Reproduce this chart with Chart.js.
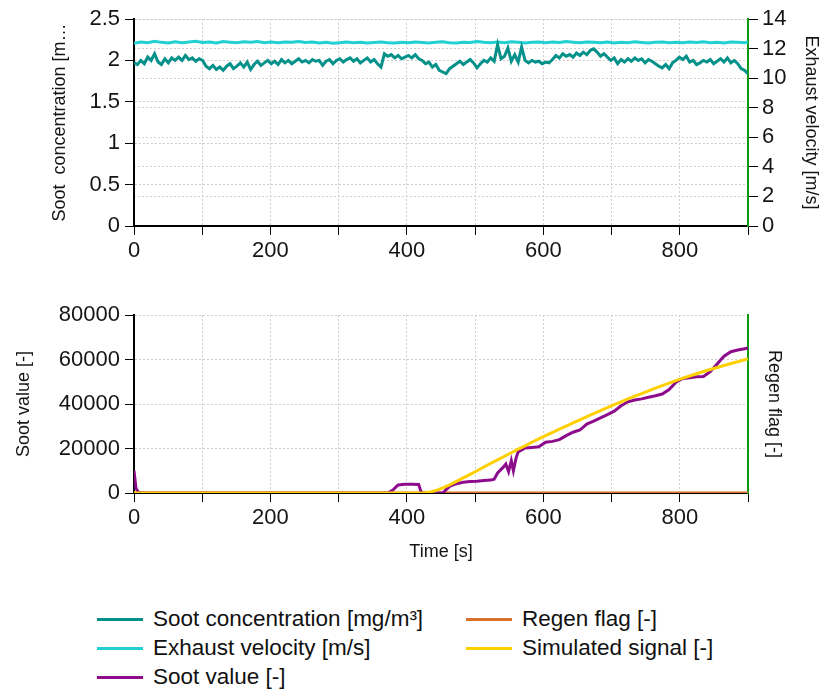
<!DOCTYPE html>
<html>
<head>
<meta charset="utf-8">
<script src="https://cdn.jsdelivr.net/npm/chart.js@4.4.1/dist/chart.umd.min.js"></script>
<style>
  body { margin: 0; background: #fff; font-family: "Liberation Sans", Arial, sans-serif; }
  #wrap { position: relative; width: 824px; height: 690px; }
  #wrap canvas { position: absolute; left: 0; }
  #top { top: 0; }
  #bottom { top: 270px; }
  .item { position: absolute; font-size: 22.5px; line-height: 26px; color: #111; white-space: nowrap; }
  .item .swatch { position: absolute; left: -56px; top: 12px; width: 46px; height: 3px; }
</style>
</head>
<body>
<div id="wrap">
  <canvas id="top" width="824" height="270"></canvas>
  <canvas id="bottom" width="824" height="310"></canvas>
  <div id="legend"></div>
</div>
<script>
// time stamps (s)
const time5 = Array.from({ length: 180 }, (_, i) => i * 5);
const time10 = Array.from({ length: 90 }, (_, i) => i * 10).concat([895]);

// x tick labels (every other 100 s tick)
const xTickLabels = ['0', '', '200', '', '400', '', '600', '', '800'];

// soot concentration [mg/m³], every 5 s
const sootConc = [
  1.97, 1.95, 2.0, 1.96, 2.04, 2.0, 2.08,
  1.98, 1.95, 2.02, 1.97, 2.03, 2.0,
  2.04, 2.0, 2.06, 2.01, 2.03, 1.99, 2.02, 2.0,
  1.93, 1.90, 1.94, 1.89, 1.92, 1.88, 1.93, 1.96, 1.90, 1.93,
  1.97, 1.92, 1.98, 1.89, 1.95, 1.99, 1.94, 1.97, 2.0, 1.96,
  1.99, 1.95, 2.01, 1.97, 2.0, 1.96, 1.99, 2.02, 1.98, 2.0,
  1.97, 2.01, 1.99, 2.0, 1.94, 1.99, 2.01, 1.96, 2.0, 2.02,
  1.98, 2.01, 2.03, 1.99, 2.02, 1.97, 2.0, 2.03, 1.98, 2.01,
  1.96, 1.92, 2.08, 2.05, 2.07, 2.03, 2.06, 2.02, 2.04, 2.06,
  2.03, 2.07, 2.02, 2.0, 1.96, 1.98, 1.92, 1.95, 1.88, 1.86,
  1.84, 1.9, 1.93, 1.96, 1.99, 1.95, 1.98, 2.01, 1.97, 1.91,
  1.96, 2.0, 1.98, 2.03, 1.99, 2.19, 2.02, 2.05, 2.15, 1.99,
  2.07, 1.98, 2.16, 2.0, 1.97, 2.0, 1.98, 1.99, 1.96, 1.98,
  1.97, 2.01, 2.06, 2.03, 2.08, 2.05, 2.07, 2.04, 2.09, 2.06,
  2.1, 2.07, 2.12, 2.14, 2.1, 2.05, 2.08, 2.04, 2.0, 2.03,
  1.96, 2.01, 1.98, 2.02, 1.99, 2.03, 2.0, 2.02, 1.97, 2.01,
  1.99, 1.96, 1.93, 1.91, 1.95, 1.9, 1.97, 2.0, 2.04, 2.01,
  2.05, 1.98, 2.0, 1.95, 1.97, 2.0, 1.98, 2.01, 1.96, 1.99,
  2.02, 1.98, 2.03, 1.97, 2.0, 1.96, 1.9, 1.88, 1.84
];

// exhaust velocity [m/s], every 10 s
const exhaustVel = [
  12.35, 12.45, 12.4, 12.5, 12.42, 12.38, 12.46, 12.4, 12.44, 12.5,
  12.41, 12.45, 12.38, 12.47, 12.43, 12.4, 12.46, 12.42, 12.48, 12.4,
  12.44, 12.39, 12.45, 12.42, 12.47, 12.41, 12.44, 12.38, 12.42, 12.36,
  12.4, 12.44, 12.39, 12.42, 12.37, 12.41, 12.45, 12.4, 12.38, 12.43,
  12.39, 12.44, 12.41, 12.37, 12.42, 12.46, 12.4, 12.38, 12.43, 12.41,
  12.47, 12.42, 12.39, 12.44, 12.4, 12.46, 12.43, 12.38, 12.42, 12.45,
  12.4, 12.44, 12.41, 12.47, 12.43, 12.39, 12.45, 12.42, 12.4, 12.44,
  12.38, 12.43, 12.4, 12.46, 12.41, 12.37, 12.42, 12.45, 12.4, 12.43,
  12.39, 12.44, 12.41, 12.46, 12.4, 12.43, 12.38, 12.45, 12.42, 12.4, 12.44
];

// soot value [-]
const sootValueTime = [0, 3, 6, 10, 370, 378, 385, 395, 405, 415, 418, 421,
  450, 455, 460, 470, 480, 490, 500, 510, 520, 525,
  530, 538, 542, 546, 550, 553, 557, 560,
  570, 580, 590, 600, 610, 620, 630, 640, 650, 660,
  670, 680, 690, 700, 710, 720, 730, 740, 750, 760,
  770, 780, 790, 800, 810, 820, 830, 840, 850, 860,
  870, 880, 890, 895];
const sootValue = [10000, 2000, 500, 0, 0, 1500, 3600, 3900, 3900, 3800, 800, 0,
  0, 1500, 3000, 4200, 4800, 5200, 5300, 5600, 5800, 6200,
  9000, 11500, 13000, 9600, 14500, 10000, 15800, 18500,
  20200, 20500, 20800, 22800, 23200, 24000, 25800, 27300, 28300, 31000,
  32300, 33800, 35200, 36800, 39200, 41000, 41800, 42300, 43000, 43700,
  44500, 46500, 49800, 51500, 51800, 52200, 52400, 54500, 58000, 61500,
  63500, 64300, 64800, 65200];

// regen flag [-]
const regenTime = [0, 895];
const regenFlag = [0, 0];

// simulated signal [-]
const simTime = [0, 420, 430, 440, 450, 460, 470, 480, 490, 500,
  510, 520, 530, 540, 550, 560, 570, 580, 590, 600,
  610, 620, 630, 640, 650, 660, 670, 680, 690, 700,
  710, 720, 730, 740, 750, 760, 770, 780, 790, 800,
  810, 820, 830, 840, 850, 860, 870, 880, 890, 895];
const simSignal = [0, 0, 300, 1100, 2300, 3700, 5200, 6800, 8400, 10000,
  11700, 13300, 14900, 16500, 18100, 19700, 21200, 22800, 24300, 25800,
  27200, 28700, 30100, 31500, 32900, 34300, 35700, 37000, 38400, 39700,
  41000, 42300, 43500, 44700, 45900, 47100, 48300, 49400, 50500, 51600,
  52600, 53600, 54600, 55500, 56400, 57300, 58200, 59000, 59900, 60300];

const seriesNames = ['Soot concentration [mg/m³]', 'Exhaust velocity [m/s]', 'Soot value [-]', 'Regen flag [-]', 'Simulated signal [-]'];
const seriesColors = ['#04918A', '#22D0D2', '#8C0C8C', '#D9712A', '#FFD000'];

const FONT = '"Liberation Sans", Arial, sans-serif';
const TEXT = '#151515';
const GRID = '#cfcfcf';
const GREEN = '#109a10';

Chart.defaults.font.family = FONT;
Chart.defaults.color = TEXT;

const xy = (ts, vs) => ts.map((t, i) => ({ x: t, y: vs[i] }));

function line(idx, ts, vs, axis, order) {
  return {
    label: seriesNames[idx],
    data: xy(ts, vs),
    borderColor: seriesColors[idx],
    backgroundColor: seriesColors[idx],
    borderWidth: 3,
    pointRadius: 0,
    yAxisID: axis,
    order: order
  };
}

function xAxis(height, title) {
  return {
    type: 'linear', min: 0, max: 895,
    grid: { color: GRID, tickColor: '#000', tickLength: 9, lineWidth: 1 },
    border: { color: '#000', width: 2, dash: [2, 2] },
    ticks: {
      stepSize: 100, includeBounds: false, autoSkip: false, maxRotation: 0, minRotation: 0,
      padding: 3, font: { size: 22 }, color: TEXT,
      callback: (v, i) => xTickLabels[i] || ''
    },
    title: title,
    afterFit: s => { s.height = height; }
  };
}

function yAxis(pos, min, max, step, title, pad) {
  return {
    type: 'linear', position: pos, min: min, max: max,
    grid: { color: GRID, tickColor: '#000', tickLength: pos === 'left' ? 9 : 10 },
    border: { color: pos === 'left' ? '#000' : GREEN, width: 2, dash: [2, 2] },
    ticks: { stepSize: step, padding: pos === 'left' ? 5 : 4, font: { size: 22 }, color: TEXT, callback: v => String(v) },
    title: { display: true, text: title, font: { size: 18 }, color: TEXT, padding: { top: pad, bottom: 0 } },
    afterFit: s => { s.width = pos === 'left' ? 134 : 76; }
  };
}

const common = {
  responsive: false,
  animation: false,
  devicePixelRatio: 1,
  plugins: { legend: { display: false }, tooltip: { enabled: false } },
  elements: { line: { tension: 0 } }
};

new Chart(document.getElementById('top'), {
  type: 'line',
  data: {
    datasets: [
      line(0, time5, sootConc, 'y', 0),
      line(1, time10, exhaustVel, 'y1', 1)
    ]
  },
  options: Object.assign({}, common, {
    layout: { padding: { top: 19, bottom: 0, left: 0, right: 0 } },
    scales: {
      x: xAxis(44, { display: false }),
      y: yAxis('left', 0, 2.5, 0.5, 'Soot  concentration [m…', 49),
      y1: yAxis('right', 0, 14, 2, 'Exhaust velocity [m/s]', 2)
    }
  })
});

const regenAxis = yAxis('right', 0, 1, 1, 'Regen flag [-]', 39);
regenAxis.grid = { display: false, drawTicks: false };
regenAxis.ticks = { display: false };

new Chart(document.getElementById('bottom'), {
  type: 'line',
  data: {
    datasets: [
      line(2, sootValueTime, sootValue, 'y', 1),
      line(3, regenTime, regenFlag, 'y1', 2),
      line(4, simTime, simSignal, 'y', 0)
    ]
  },
  options: Object.assign({}, common, {
    layout: { padding: { top: 45, bottom: 0, left: 0, right: 0 } },
    scales: {
      x: xAxis(87, { display: true, text: 'Time [s]', font: { size: 18 }, color: TEXT, padding: { top: 0, bottom: 17 } }),
      y: yAxis('left', 0, 80000, 20000, 'Soot value [-]', 13),
      y1: regenAxis
    }
  })
});

// legend: two columns, filled column by column
const legendPos = [
  { left: 153, top: 606 }, { left: 153, top: 635 }, { left: 153, top: 664 },
  { left: 522, top: 606 }, { left: 522, top: 635 }
];
const legend = document.getElementById('legend');
seriesNames.forEach((name, i) => {
  const el = document.createElement('div');
  el.className = 'item';
  el.style.left = legendPos[i].left + 'px';
  el.style.top = legendPos[i].top + 'px';
  el.innerHTML = '<span class="swatch" style="background:' + seriesColors[i] + '"></span>';
  el.appendChild(document.createTextNode(name));
  legend.appendChild(el);
});
</script>
</body>
</html>
